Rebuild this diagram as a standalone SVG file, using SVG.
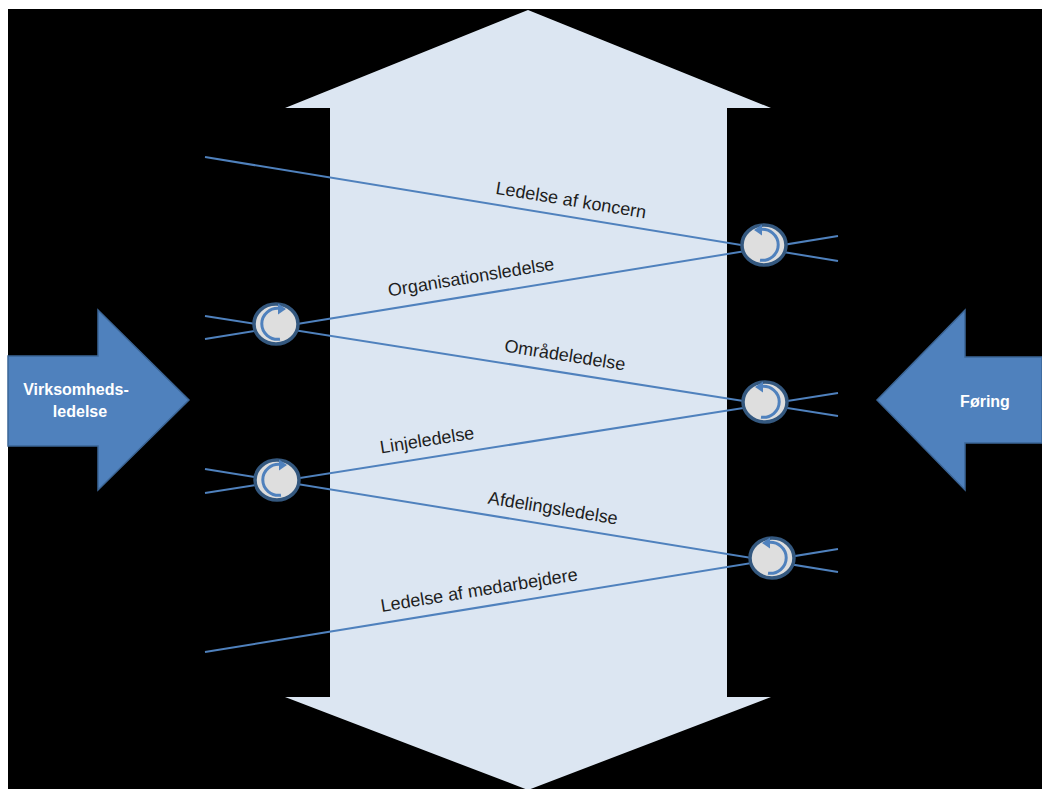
<svg xmlns="http://www.w3.org/2000/svg" width="1042" height="789" viewBox="0 0 1042 789">
  <style>
    .line { stroke: #4f81bd; stroke-width: 2; fill: none; }
    .lbl { font-family: "Liberation Sans", Arial, sans-serif; font-size: 18px; fill: #1e1e1e; text-anchor: middle; }
    .side { fill: #4f81bd; stroke: #3b6596; stroke-width: 1.5; }
    .sidetxt { font-family: "Liberation Sans", Arial, sans-serif; font-size: 16px; font-weight: bold; fill: #ffffff; text-anchor: middle; }
    .node { fill: #dedede; stroke: #34587f; stroke-width: 3.5; }
    .arc { fill: none; stroke: #4f81bd; stroke-width: 3; }
    .arch { fill: #4f81bd; }
  </style>
  <defs>
    <g id="cycleR">
      <ellipse cx="0" cy="0" rx="22" ry="20" class="node"/>
      <path d="M -4 -15.5 A 16 15.5 0 1 1 -4 15.2" class="arc"/>
      <polygon points="-10,-15 -2,-20.5 -2,-9.5" class="arch"/>
    </g>
  </defs>
  <rect x="0" y="0" width="1042" height="789" fill="#ffffff"/>
  <rect x="8" y="9" width="1034" height="780" fill="#000000"/>

  <g id="bigArrow">
    <polygon points="528,10 771,108 727,108 727,697 771,697 528,790 285,697 330,697 330,108 285,108" fill="#dce6f2"/>
  </g>

  <g id="connectors">
    <line class="line" x1="205" y1="157" x2="838" y2="261"/>
    <line class="line" x1="838" y1="236" x2="205" y2="339"/>
    <line class="line" x1="205" y1="316" x2="838" y2="416"/>
    <line class="line" x1="838" y1="393" x2="205" y2="493"/>
    <line class="line" x1="205" y1="469" x2="838" y2="572"/>
    <line class="line" x1="838" y1="549" x2="205" y2="652"/>
  </g>

  <g id="labels">
    <text class="lbl" transform="translate(570,206) rotate(9.3)">Ledelse af koncern</text>
    <text class="lbl" transform="translate(472,283) rotate(-9.2)">Organisationsledelse</text>
    <text class="lbl" transform="translate(564,361) rotate(9)">Områdeledelse</text>
    <text class="lbl" transform="translate(428,446) rotate(-9)">Linjeledelse</text>
    <text class="lbl" transform="translate(552,514) rotate(9.2)">Afdelingsledelse</text>
    <text class="lbl" transform="translate(480,596) rotate(-9.2)">Ledelse af medarbejdere</text>
  </g>

  <g id="node1"><use href="#cycleR" transform="translate(764,245)"/></g>
  <g id="node2"><use href="#cycleR" transform="translate(276,324) scale(-1,1)"/></g>
  <g id="node3"><use href="#cycleR" transform="translate(765,402)"/></g>
  <g id="node4"><use href="#cycleR" transform="translate(277,480) scale(-1,1)"/></g>
  <g id="node5"><use href="#cycleR" transform="translate(772,558)"/></g>

  <g id="leftArrow">
    <polygon class="side" points="8,356 98,356 98,310 189,400 98,490 98,446 8,446"/>
    <text class="sidetxt" x="76" y="395">Virksomheds-</text>
    <text class="sidetxt" x="80" y="417">ledelse</text>
  </g>

  <g id="rightArrow">
    <polygon class="side" points="1042,357 965,357 965,310 877,400 965,490 965,443 1042,443"/>
    <text class="sidetxt" x="985" y="407">Føring</text>
  </g>
</svg>
